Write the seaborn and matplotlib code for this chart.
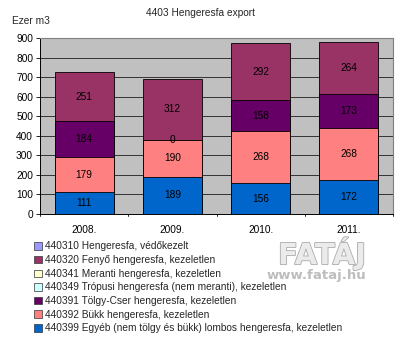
import numpy as np
import pandas as pd
import matplotlib
matplotlib.use("Agg")
import matplotlib.pyplot as plt
import matplotlib.patheffects as pe
from matplotlib.patches import Patch
import seaborn as sns

sns.set_style("white")
plt.rcParams['font.family'] = ['Liberation Sans', 'DejaVu Sans']

years = ["2008.", "2009.", "2010.", "2011."]
s440399 = [111, 189, 156, 172]   # Egyéb lombos
s440392 = [179, 190, 268, 268]   # Bükk
s440391 = [184, 0, 158, 173]     # Tölgy-Cser
s440320 = [251, 312, 292, 264]   # Fenyő

series_names = [
    "440310 Hengeresfa, védőkezelt",
    "440320 Fenyő hengeresfa, kezeletlen",
    "440341 Meranti hengeresfa, kezeletlen",
    "440349 Trópusi hengeresfa (nem meranti), kezeletlen",
    "440391 Tölgy-Cser hengeresfa, kezeletlen",
    "440392 Bükk hengeresfa, kezeletlen",
    "440399 Egyéb (nem tölgy és bükk) lombos hengeresfa, kezeletlen",
]
legend_colors = ["#9999FF", "#993366", "#FFFFCC", "#CCFFFF", "#660066", "#FF8080", "#0066CC"]

# stack bottom -> top
stack = [("440399", s440399, "#0066CC"),
         ("440392", s440392, "#FF8080"),
         ("440391", s440391, "#660066"),
         ("440320", s440320, "#993366")]

fig = plt.figure(figsize=(4.0, 3.44), dpi=100)
ax = fig.add_axes([0.1, 0.378, 0.8825, 0.5116])
ax.set_facecolor("#C0C0C0")

cum = np.zeros(len(years))
cums = []
for name, vals, col in stack:
    bottom = cum.copy()
    cum = cum + np.array(vals)
    cums.append((bottom, cum.copy(), vals, col))

# draw cumulative bars from top layer down so lower layers overlay
for bottom, top, vals, col in reversed(cums):
    df = pd.DataFrame({"year": years, "v": top})
    sns.barplot(data=df, x="year", y="v", order=years, color=col, saturation=1,
                width=0.67, edgecolor="black", linewidth=0.6, ax=ax, zorder=3)

for bottom, top, vals, col in cums:
    for i, v in enumerate(vals):
        ax.text(i, (bottom[i] + top[i]) / 2, f"{v}", ha="center", va="center",
                fontsize=7.3, color="black", zorder=5)

ax.set_ylim(0, 900)
ax.set_xlim(-0.5, 3.5)
ax.set_yticks(range(0, 901, 100))
ax.yaxis.grid(True, color="#333333", linewidth=0.7, zorder=0)
ax.set_axisbelow(True)
ax.set_xlabel("")
ax.set_ylabel("")
ax.tick_params(axis="both", labelsize=7.3, colors="black", length=3, width=0.6)
ax.tick_params(axis="x", length=0, pad=8)
ax.tick_params(axis="y", left=True, pad=2)
for b in [0.5, 1.5, 2.5, 3.5, -0.5]:
    ax.plot([b, b], [0, -12], color="black", lw=0.6, clip_on=False, zorder=4)
for sp in ["top", "right"]:
    ax.spines[sp].set_color("#808080")
    ax.spines[sp].set_linewidth(0.8)
ax.spines["left"].set_color("black")
ax.spines["bottom"].set_color("black")
ax.spines["left"].set_linewidth(0.7)
ax.spines["bottom"].set_linewidth(0.7)

fig.text(0.5, 0.962, "4403 Hengeresfa export", ha="center", va="center", fontsize=7.3)
fig.text(0.03, 0.94, "Ezer m3", ha="left", va="center", fontsize=7.3)

handles = [Patch(facecolor=c, edgecolor="#333333", linewidth=0.5) for c in legend_colors]
fig.legend(handles, series_names, loc="upper left", bbox_to_anchor=(0.085, 0.298),
           frameon=False, fontsize=7.3, handlelength=0.75, handleheight=0.75,
           handletextpad=0.3, labelspacing=0.36, borderaxespad=0, borderpad=0)

fig.text(0.805, 0.232, "FATÁJ", ha="center", va="baseline", fontsize=21,
         fontweight="bold", family="DejaVu Sans", color="#EBEBEB",
         path_effects=[pe.withStroke(linewidth=1.2, foreground="#ABABAB")])
fig.text(0.79, 0.2, "www.fataj.hu", ha="center", va="center", fontsize=9.5,
         fontweight="bold", family="DejaVu Sans", color="#BDBDBD")

fig.savefig("out.png", dpi=100, facecolor="white")
